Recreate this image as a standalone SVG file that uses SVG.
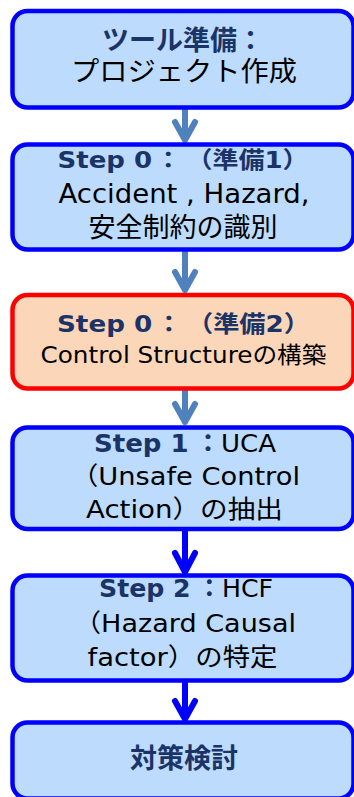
<svg xmlns="http://www.w3.org/2000/svg" width="354" height="797" viewBox="0 0 354 797">
<style>
.box{fill:#bddbfd;stroke:#0000ff;stroke-width:4.5}
.box.red{fill:#fcd6b8;stroke:#ff0000}
text{font-family:"DejaVu Sans","Noto Sans CJK JP",sans-serif;text-anchor:middle;fill:#000}
.j{font-family:"Noto Sans CJK JP",sans-serif}
.b{font-weight:bold;fill:#1a3468}
.arr{fill:none;stroke-width:6;stroke-linecap:round;stroke-linejoin:round}
.s{stroke:#4f81bd}
.k{stroke:#0000ff}
</style>
<rect width="354" height="797" fill="#fff"/>
<g id="connectors">
<path class="arr s" d="M185,110 V140 M175,122 L185,140 L195,122"/>
<path class="arr s" d="M185,252 V290 M175,272 L185,290 L195,272"/>
<path class="arr s" d="M185,391 V422 M175,404 L185,422 L195,404"/>
<path class="arr k" d="M185,531 V572 M175,553 L185,572 L195,553"/>
<path class="arr k" d="M185,683 V719 M175,701 L185,719 L195,701"/>
</g>
<g id="n1">
<rect class="box" x="12.5" y="11" width="341" height="96.5" rx="15"/>
<text x="183" y="50" font-size="27" class="b">ツール準備<tspan class="j">：</tspan></text>
<text x="184" y="81" font-size="27" textLength="226" lengthAdjust="spacingAndGlyphs">プロジェクト作成</text>
</g>
<g id="n2">
<rect class="box" x="12.5" y="144.5" width="341" height="105" rx="15"/>
<text x="183" y="168" font-size="23" class="b" textLength="251" lengthAdjust="spacingAndGlyphs">Step 0<tspan class="j" dx="3">：</tspan><tspan class="j" dx="16">（</tspan>準備1<tspan class="j">）</tspan></text>
<text x="184" y="203" font-size="26" textLength="251" lengthAdjust="spacingAndGlyphs">Accident , Hazard,</text>
<text x="183" y="237" font-size="27">安全制約の識別</text>
</g>
<g id="n3">
<rect class="box red" x="12.5" y="295" width="341" height="93.5" rx="15"/>
<text x="183.5" y="332" font-size="23" class="b" textLength="253" lengthAdjust="spacingAndGlyphs">Step 0<tspan class="j" dx="3">：</tspan><tspan class="j" dx="16">（</tspan>準備2<tspan class="j">）</tspan></text>
<text x="183.5" y="363" font-size="23" textLength="286" lengthAdjust="spacingAndGlyphs">Control Structureの構築</text>
</g>
<g id="n4">
<rect class="box" x="12.5" y="427.5" width="341" height="101.5" rx="15"/>
<text x="185" y="452" font-size="25" textLength="182" lengthAdjust="spacingAndGlyphs"><tspan class="b">Step 1<tspan class="j" dx="6">：</tspan></tspan>UCA</text>
<text x="185.5" y="485" font-size="25" textLength="229" lengthAdjust="spacingAndGlyphs"><tspan class="j">（</tspan>Unsafe Control</text>
<text x="184.5" y="518" font-size="25" textLength="197" lengthAdjust="spacingAndGlyphs">Action<tspan class="j">）</tspan>の抽出</text>
</g>
<g id="n5">
<rect class="box" x="12.5" y="575.5" width="341" height="105" rx="15"/>
<text x="186" y="597" font-size="25" textLength="174" lengthAdjust="spacingAndGlyphs"><tspan class="b">Step 2<tspan class="j" dx="6">：</tspan></tspan>HCF</text>
<text x="185" y="632" font-size="25" textLength="222" lengthAdjust="spacingAndGlyphs"><tspan class="j">（</tspan>Hazard Causal</text>
<text x="182.5" y="666" font-size="25" textLength="190" lengthAdjust="spacingAndGlyphs">factor<tspan class="j">）</tspan>の特定</text>
</g>
<g id="n6">
<rect class="box" x="12.5" y="722.5" width="341" height="76" rx="15"/>
<text x="184" y="768" font-size="27" class="b">対策検討</text>
</g>
</svg>
